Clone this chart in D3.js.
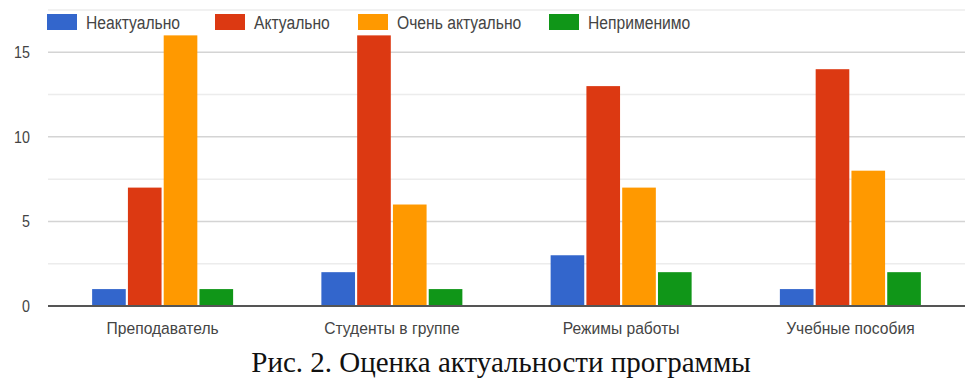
<!DOCTYPE html>
<html>
<head>
<meta charset="utf-8">
<script src="https://cdn.jsdelivr.net/npm/d3@7"></script>
<style>
  body { margin: 0; background: #fff; }
  svg { display: block; }
</style>
</head>
<body>
<svg id="chart" width="975" height="380"></svg>
<script>
// DATA
const categories = ["Преподаватель", "Студенты в группе", "Режимы работы", "Учебные пособия"];
const seriesNames = ["Неактуально", "Актуально", "Очень актуально", "Неприменимо"];
const seriesColors = ["#3366cc", "#dc3912", "#ff9900", "#109618"];
const notRelevant = [1, 2, 3, 1];
const relevant = [7, 16, 13, 14];
const veryRelevant = [16, 6, 7, 8];
const notApplicable = [1, 1, 2, 2];
const majorTicks = [0, 5, 10, 15];
const minorTicks = [2.5, 7.5, 12.5, 17.5];
const caption = "Рис. 2. Оценка актуальности программы";

const series = [notRelevant, relevant, veryRelevant, notApplicable];
const rows = categories.map((c, i) => ({
  category: c,
  values: series.map((s, k) => ({ key: seriesNames[k], value: s[i] }))
}));

const svg = d3.select("#chart");
const plotLeft = 48, plotRight = 965, plotTop = 10, plotBottom = 306;
const sans = "Arial, 'Liberation Sans', sans-serif";

// SCALES
const y = d3.scaleLinear().domain([0, 17.5]).range([plotBottom, plotTop]);
const x0 = d3.scaleBand().domain(categories).range([plotLeft, plotRight])
  .paddingInner(0.385).paddingOuter(0.1925);
const x1 = d3.scaleBand().domain(seriesNames).range([0, x0.bandwidth()])
  .paddingInner(0.06).paddingOuter(0);
const color = d3.scaleOrdinal().domain(seriesNames).range(seriesColors);

// GRID LINES
svg.append("g").selectAll("line").data(minorTicks).join("line")
  .attr("x1", plotLeft).attr("x2", plotRight)
  .attr("y1", d => y(d)).attr("y2", d => y(d))
  .attr("stroke", "#ececec").attr("stroke-width", 1.5);

svg.append("g").selectAll("line").data(majorTicks.filter(d => d > 0)).join("line")
  .attr("x1", plotLeft).attr("x2", plotRight)
  .attr("y1", d => y(d)).attr("y2", d => y(d))
  .attr("stroke", "#d4d4d4").attr("stroke-width", 1.5);

// Y AXIS LABELS (text in the picture is a bit narrow, so squeeze it horizontally)
const yAxis = svg.append("g")
  .attr("transform", `translate(${plotLeft - 18},0)`)
  .call(d3.axisLeft(y).tickValues(majorTicks).tickSize(0).tickPadding(0));
yAxis.select(".domain").remove();
yAxis.selectAll("text")
  .attr("font-family", sans)
  .attr("font-size", 17).attr("fill", "#444")
  .attr("transform", "scale(0.84,1)");

// BARS
const groups = svg.append("g").selectAll("g").data(rows).join("g")
  .attr("transform", d => `translate(${x0(d.category)},0)`);
groups.selectAll("rect").data(d => d.values).join("rect")
  .attr("x", d => x1(d.key))
  .attr("width", x1.bandwidth())
  .attr("y", d => y(d.value))
  .attr("height", d => y(0) - y(d.value))
  .attr("fill", d => color(d.key));

// BASELINE
svg.append("line")
  .attr("x1", plotLeft).attr("x2", plotRight)
  .attr("y1", y(0)).attr("y2", y(0))
  .attr("stroke", "#555").attr("stroke-width", 2);

// X AXIS LABELS
const xAxis = svg.append("g")
  .attr("transform", `translate(0,${plotBottom})`)
  .call(d3.axisBottom(x0).tickSize(0).tickPadding(16));
xAxis.select(".domain").remove();
xAxis.selectAll("text")
  .attr("font-family", sans)
  .attr("font-size", 17).attr("fill", "#444")
  .attr("transform", "scale(0.92,1)");

// LEGEND
const legendX = [47, 215, 358, 549];
const legend = svg.append("g").selectAll("g").data(seriesNames).join("g")
  .attr("transform", (d, i) => `translate(${legendX[i]},14)`);
legend.append("rect")
  .attr("width", 30).attr("height", 16)
  .attr("fill", d => color(d));
legend.append("text")
  .attr("transform", "translate(39,15) scale(0.87,1)")
  .attr("font-family", sans)
  .attr("font-size", 18).attr("fill", "#444")
  .text(d => d);

// CAPTION
svg.append("text")
  .attr("x", 501).attr("y", 372)
  .attr("text-anchor", "middle")
  .attr("font-family", "'Times New Roman', 'Liberation Serif', serif")
  .attr("font-size", 29).attr("fill", "#111")
  .text(caption);
</script>
</body>
</html>
